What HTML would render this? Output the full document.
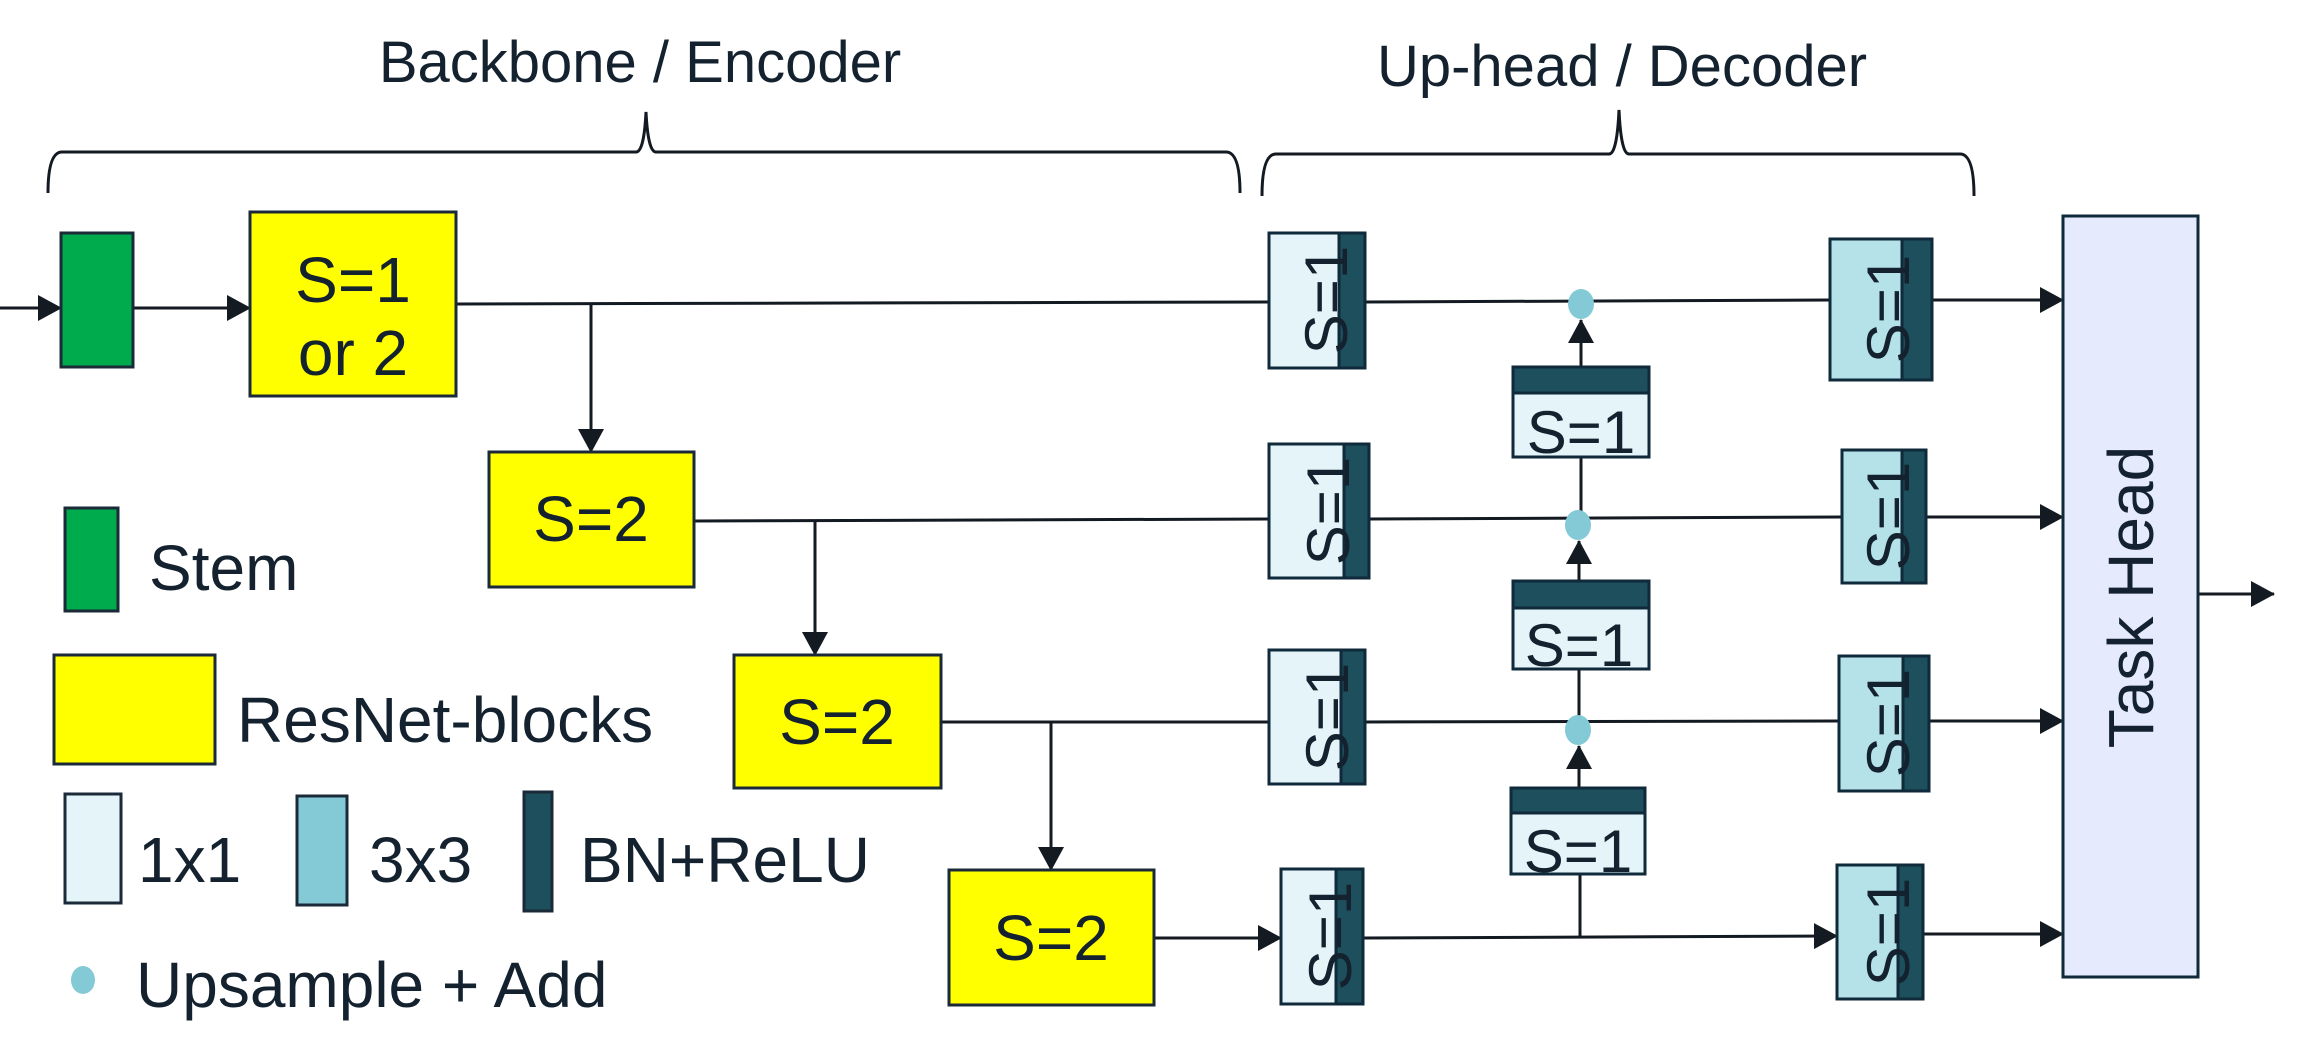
<!DOCTYPE html>
<html><head><meta charset="utf-8"><style>
html,body{margin:0;padding:0;background:#fff;}
svg{display:block;}
text{font-family:"Liberation Sans",Arial,sans-serif;fill:#14222f;}
</style></head><body>
<svg width="2303" height="1060" viewBox="0 0 2303 1060" xmlns="http://www.w3.org/2000/svg">
<defs>
<marker id="ah" markerWidth="24" markerHeight="26" refX="23" refY="13" orient="auto" markerUnits="userSpaceOnUse">
<path d="M0,0 L24,13 L0,26 Z" fill="#141a22"/>
</marker>
</defs>
<g stroke="#141a22" stroke-width="3" fill="none">
<!-- braces -->
<path d="M48,193 Q48,152 62,152 L636,152 Q644,152 646,112 Q648,152 656,152 L1226,152 Q1240,152 1240,193"/>
<path d="M1262,196 Q1262,154 1276,154 L1609,154 Q1617,154 1619,110 Q1621,154 1629,154 L1960,154 Q1974,154 1974,196"/>
<!-- encoder lines -->
<line x1="0" y1="308" x2="61" y2="308" marker-end="url(#ah)"/>
<line x1="134" y1="308" x2="250" y2="308" marker-end="url(#ah)"/>
<line x1="456" y1="304" x2="1269" y2="302"/>
<line x1="591" y1="304" x2="591" y2="452" marker-end="url(#ah)"/>
<line x1="694" y1="521" x2="1269" y2="519"/>
<line x1="815" y1="521" x2="815" y2="655" marker-end="url(#ah)"/>
<line x1="941" y1="722" x2="1269" y2="722"/>
<line x1="1051" y1="722" x2="1051" y2="870" marker-end="url(#ah)"/>
<line x1="1154" y1="938" x2="1281" y2="938" marker-end="url(#ah)"/>
<!-- decoder row lines -->
<line x1="1365" y1="302" x2="1830" y2="300"/>
<line x1="1369" y1="519" x2="1842" y2="517"/>
<line x1="1365" y1="722" x2="1839" y2="721"/>
<line x1="1363" y1="938" x2="1837" y2="936" marker-end="url(#ah)"/>
<!-- verticals -->
<line x1="1581" y1="367" x2="1581" y2="320" marker-end="url(#ah)"/>
<line x1="1581" y1="457" x2="1581" y2="525"/>
<line x1="1579" y1="581" x2="1579" y2="541" marker-end="url(#ah)"/>
<line x1="1579" y1="669" x2="1579" y2="730"/>
<line x1="1579" y1="788" x2="1579" y2="746" marker-end="url(#ah)"/>
<line x1="1580" y1="874" x2="1580" y2="938"/>
<!-- to task head -->
<line x1="1932" y1="300" x2="2063" y2="300" marker-end="url(#ah)"/>
<line x1="1926" y1="517" x2="2063" y2="517" marker-end="url(#ah)"/>
<line x1="1929" y1="721" x2="2063" y2="721" marker-end="url(#ah)"/>
<line x1="1923" y1="934" x2="2063" y2="934" marker-end="url(#ah)"/>
<line x1="2198" y1="594" x2="2274" y2="594" marker-end="url(#ah)"/>
</g>
<!-- titles -->
<text x="640" y="82" font-size="58" text-anchor="middle">Backbone / Encoder</text>
<text x="1622" y="86" font-size="58" text-anchor="middle">Up-head / Decoder</text>
<!-- stem -->
<rect x="61" y="233" width="72" height="134" fill="#00ab4e" stroke="#1b2a38" stroke-width="3"/>
<!-- resnet blocks -->
<g fill="#ffff00" stroke="#1b2a38" stroke-width="3">
<rect x="250" y="212" width="206" height="184"/>
<rect x="489" y="452" width="205" height="135"/>
<rect x="734" y="655" width="207" height="133"/>
<rect x="949" y="870" width="205" height="135"/>
</g>
<g font-size="64" text-anchor="middle">
<text x="353" y="302">S=1</text>
<text x="353" y="375">or 2</text>
<text x="591" y="541">S=2</text>
<text x="837" y="744">S=2</text>
<text x="1051" y="960">S=2</text>
</g>
<!-- decoder 1x1 blocks -->
<g stroke="#0f2a3a" stroke-width="3">
<rect x="1269" y="233" width="96" height="135" fill="#e4f4f8"/><rect x="1339" y="233" width="26" height="135" fill="#1e4f5c"/>
<rect x="1269" y="444" width="100" height="134" fill="#e4f4f8"/><rect x="1344" y="444" width="25" height="134" fill="#1e4f5c"/>
<rect x="1269" y="650" width="96" height="134" fill="#e4f4f8"/><rect x="1341" y="650" width="24" height="134" fill="#1e4f5c"/>
<rect x="1281" y="869" width="82" height="135" fill="#e4f4f8"/><rect x="1336" y="869" width="27" height="135" fill="#1e4f5c"/>
<!-- 3x3 right -->
<rect x="1830" y="239" width="102" height="141" fill="#b5e2e8"/><rect x="1902" y="239" width="30" height="141" fill="#1e4f5c"/>
<rect x="1842" y="450" width="84" height="133" fill="#b5e2e8"/><rect x="1902" y="450" width="24" height="133" fill="#1e4f5c"/>
<rect x="1839" y="656" width="90" height="135" fill="#b5e2e8"/><rect x="1903" y="656" width="26" height="135" fill="#1e4f5c"/>
<rect x="1837" y="865" width="86" height="134" fill="#b5e2e8"/><rect x="1898" y="865" width="25" height="134" fill="#1e4f5c"/>
<!-- middle -->
<rect x="1513" y="367" width="136" height="90" fill="#e4f4f8"/><rect x="1513" y="367" width="136" height="26" fill="#1e4f5c"/>
<rect x="1513" y="581" width="136" height="88" fill="#e4f4f8"/><rect x="1513" y="581" width="136" height="27" fill="#1e4f5c"/>
<rect x="1511" y="788" width="134" height="86" fill="#e4f4f8"/><rect x="1511" y="788" width="134" height="25" fill="#1e4f5c"/>
<!-- task head -->
<rect x="2063" y="216" width="135" height="761" fill="#e5eafc"/>
</g>
<g font-size="60" text-anchor="middle">
<text transform="translate(1326,300) rotate(-90)" x="0" y="21">S=1</text>
<text transform="translate(1328,511) rotate(-90)" x="0" y="21">S=1</text>
<text transform="translate(1327,717) rotate(-90)" x="0" y="21">S=1</text>
<text transform="translate(1330,936) rotate(-90)" x="0" y="21">S=1</text>
<text transform="translate(1888,309) rotate(-90)" x="0" y="21">S=1</text>
<text transform="translate(1888,516) rotate(-90)" x="0" y="21">S=1</text>
<text transform="translate(1888,723) rotate(-90)" x="0" y="21">S=1</text>
<text transform="translate(1888,932) rotate(-90)" x="0" y="21">S=1</text>
<text x="1581" y="453">S=1</text>
<text x="1579" y="666">S=1</text>
<text x="1578" y="872">S=1</text>
<text transform="translate(2130,597) rotate(-90)" x="0" y="23" font-size="64">Task Head</text>
</g>
<!-- dots -->
<g fill="#84cad6">
<ellipse cx="1581" cy="304" rx="13" ry="15"/>
<ellipse cx="1578" cy="525" rx="13" ry="15"/>
<ellipse cx="1578" cy="730" rx="13" ry="15"/>
</g>
<!-- legend -->
<rect x="65" y="508" width="53" height="103" fill="#00ab4e" stroke="#1b2a38" stroke-width="3"/>
<text x="149" y="590" font-size="64">Stem</text>
<rect x="54" y="655" width="161" height="109" fill="#ffff00" stroke="#1b2a38" stroke-width="3"/>
<text x="237" y="742" font-size="64">ResNet-blocks</text>
<rect x="65" y="794" width="56" height="109" fill="#e4f4f8" stroke="#1b2a38" stroke-width="3"/>
<text x="138" y="882" font-size="64">1x1</text>
<rect x="297" y="796" width="50" height="109" fill="#84cad6" stroke="#1b2a38" stroke-width="3"/>
<text x="369" y="882" font-size="64">3x3</text>
<rect x="524" y="792" width="28" height="119" fill="#1e4f5c" stroke="#1b2a38" stroke-width="3"/>
<text x="580" y="882" font-size="64">BN+ReLU</text>
<ellipse cx="83" cy="980" rx="12" ry="14" fill="#84cad6"/>
<text x="136" y="1007" font-size="64">Upsample + Add</text>
</svg>
</body></html>
